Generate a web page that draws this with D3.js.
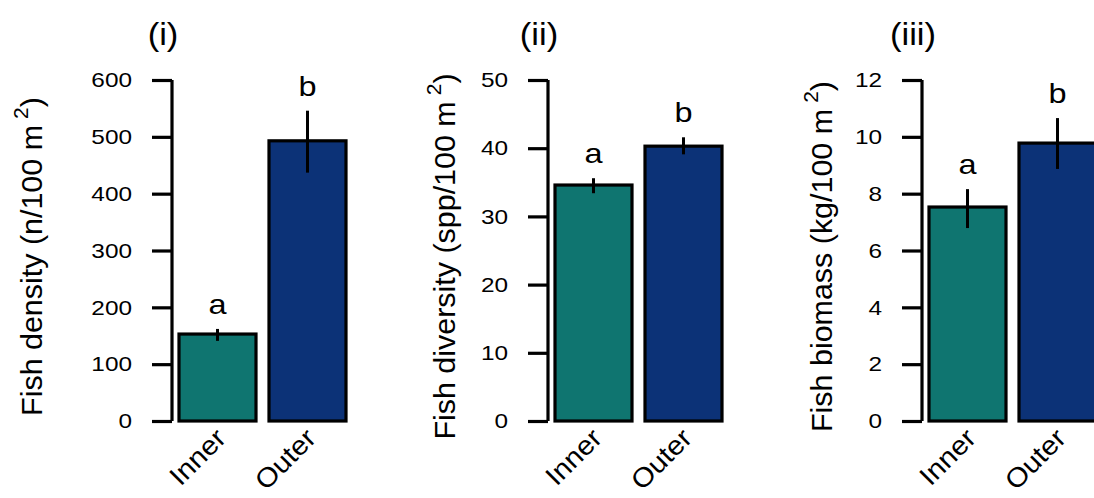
<!DOCTYPE html>
<html>
<head>
<meta charset="utf-8">
<script src="https://cdn.jsdelivr.net/npm/d3@7"></script>
<style>
  html, body { margin: 0; padding: 0; background: #fff; }
  svg { display: block; }
  text { font-family: "Liberation Sans", Arial, sans-serif; fill: #000; }
</style>
</head>
<body>
<svg id="chart" width="1094" height="498"></svg>
<script>
// ---- data ----
const categories = ["Inner", "Outer"];
const panelTitles = ["(i)", "(ii)", "(iii)"];
const yLabels = ["Fish density (n/100 m", "Fish diversity (spp/100 m", "Fish biomass (kg/100 m"];
const yMax = [600, 50, 12];
const yTicks = [
  [0, 100, 200, 300, 400, 500, 600],
  [0, 10, 20, 30, 40, 50],
  [0, 2, 4, 6, 8, 10, 12]
];
const densityMean = [153, 493];
const densityLow  = [141, 437];
const densityHigh = [162, 546];
const diversityMean = [34.6, 40.3];
const diversityLow  = [33.4, 39.1];
const diversityHigh = [35.6, 41.6];
const biomassMean = [7.53, 9.78];
const biomassLow  = [6.79, 8.87];
const biomassHigh = [8.16, 10.66];
const letters = [["a", "b"], ["a", "b"], ["a", "b"]];
const barColors = ["#0f7570", "#0c3277"];

const panels = [
  { mean: densityMean, low: densityLow, high: densityHigh },
  { mean: diversityMean, low: diversityLow, high: diversityHigh },
  { mean: biomassMean, low: biomassLow, high: biomassHigh }
];

// ---- layout ----
const axisX = [172, 548, 922];
const yTop = 80, yBottom = 421;
const barSpan = 167;
const wide = 1.16; // glyphs in the reference are drawn wider than Arial
const svg = d3.select("#chart");

panels.forEach((p, i) => {
  const g = svg.append("g");
  const y = d3.scaleLinear().domain([0, yMax[i]]).range([yBottom, yTop]);
  const x = d3.scaleBand().domain(categories)
    .range([axisX[i] + 7, axisX[i] + 7 + barSpan])
    .paddingInner(13 / 90).paddingOuter(0);
  const cx = d => x(d) + x.bandwidth() / 2;

  // bars
  g.selectAll("rect.bar").data(categories).enter().append("rect")
    .attr("x", d => x(d))
    .attr("y", (d, j) => y(p.mean[j]))
    .attr("width", x.bandwidth())
    .attr("height", (d, j) => y(0) - y(p.mean[j]))
    .attr("fill", (d, j) => barColors[j])
    .attr("stroke", "#000")
    .attr("stroke-width", 3.2);

  // error bars
  g.selectAll("line.err").data(categories).enter().append("line")
    .attr("x1", cx).attr("x2", cx)
    .attr("y1", (d, j) => y(p.low[j]))
    .attr("y2", (d, j) => y(p.high[j]))
    .attr("stroke", "#000")
    .attr("stroke-width", 3);

  // significance letters
  g.selectAll("text.sig").data(categories).enter().append("text")
    .attr("transform", (d, j) => `translate(${cx(d)},${y(p.high[j]) - 15}) scale(${wide},1)`)
    .attr("text-anchor", "middle")
    .attr("font-size", 28)
    .text((d, j) => letters[i][j]);

  // y axis
  const axis = d3.axisLeft(y).tickValues(yTicks[i]).tickSize(20).tickPadding(18).tickSizeOuter(0);
  const ag = g.append("g").attr("transform", `translate(${axisX[i]},0)`).call(axis);
  ag.select(".domain").attr("stroke", "#000").attr("stroke-width", 3.2)
    .attr("d", `M0,${yTop}V${yBottom}`);
  ag.selectAll(".tick line").attr("stroke", "#000").attr("stroke-width", 3.2);
  ag.selectAll(".tick text")
    .attr("x", 0)
    .attr("transform", `translate(-40,0) scale(${wide},1)`)
    .attr("font-size", 21)
    .attr("font-family", "'Liberation Sans', Arial, sans-serif").attr("fill", "#000");

  // x labels
  g.selectAll("text.xl").data(categories).enter().append("text")
    .attr("transform", d => `translate(${cx(d) + 10},${yBottom + 19}) rotate(-45) scale(1.08,1)`)
    .attr("text-anchor", "end")
    .attr("font-size", 27)
    .text(d => d);

  // y label
  const yl = g.append("text")
    .attr("transform", `translate(${axisX[i] - [130, 93, 90][i]},${(yTop + yBottom) / 2 + 6}) rotate(-90) scale(1.05,1)`)
    .attr("text-anchor", "middle")
    .attr("font-size", 29);
  yl.append("tspan").text(yLabels[i] + "\u2009");
  yl.append("tspan").attr("font-size", 20).attr("dy", -14).text("2");
  yl.append("tspan").attr("dy", 14).text(")");

  // panel title
  g.append("text")
    .attr("transform", `translate(${axisX[i] - 9},45) scale(1.08,1)`)
    .attr("text-anchor", "middle")
    .attr("font-size", 32)
    .text(panelTitles[i]);
});
</script>
</body>
</html>
